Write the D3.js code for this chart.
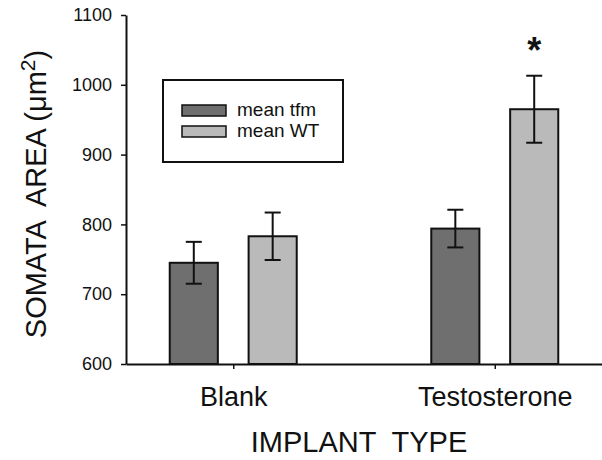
<!DOCTYPE html>
<html>
<head>
<meta charset="utf-8">
<script src="https://cdn.jsdelivr.net/npm/d3@7"></script>
<style>
  body { margin: 0; background: #fff; }
  text { font-family: "Liberation Sans", Arial, Helvetica, sans-serif; fill: #111; }
</style>
</head>
<body>
<div id="vis"></div>
<script>
const implants = ["Blank", "Testosterone"];
const groups = ["mean tfm", "mean WT"];
const tfmMeans = [745, 794];
const tfmErr = [30, 27];
const wtMeans = [783, 965];
const wtErr = [34, 48];
const yTicks = [600, 700, 800, 900, 1000, 1100];
const significant = [false, true];   // WT only

const colors = { "mean tfm": "#6f6f6f", "mean WT": "#bababa" };

const width = 602, height = 460;
const svg = d3.select("#vis").append("svg")
  .attr("width", width).attr("height", height);

const rows = [];
implants.forEach((imp, i) => {
  rows.push({ imp, grp: "mean tfm", v: tfmMeans[i], e: tfmErr[i], star: false });
  rows.push({ imp, grp: "mean WT", v: wtMeans[i], e: wtErr[i], star: significant[i] });
});

const x = d3.scalePoint().domain(implants).range([126, 602]).padding(0.41);
const xSub = d3.scaleBand().domain(groups).range([-63.5, 63.5]).paddingInner(0.39);
const y = d3.scaleLinear().domain([600, 1100]).range([364, 15]);

// axes
const yAxis = svg.append("g").attr("transform", "translate(126,0)")
  .call(d3.axisLeft(y).tickValues(yTicks).tickFormat(d3.format("d"))
    .tickSize(5).tickPadding(9).tickSizeOuter(0));
yAxis.select(".domain").attr("stroke", "#111").attr("stroke-width", 2);
yAxis.selectAll(".tick line").attr("stroke", "#111").attr("stroke-width", 1.5);
yAxis.selectAll(".tick text").style("font-size", "18px").attr("fill", "#111");

const xAxis = svg.append("g").attr("transform", "translate(0,364)")
  .call(d3.axisBottom(x).tickSize(5).tickPadding(18).tickSizeOuter(0));
xAxis.select(".domain").attr("stroke", "#111").attr("stroke-width", 2);
xAxis.selectAll(".tick line").attr("stroke", "#111").attr("stroke-width", 1.5);
xAxis.selectAll(".tick text").style("font-size", "27px").attr("fill", "#111");

// bars
svg.append("g").selectAll("rect").data(rows).join("rect")
  .attr("x", d => x(d.imp) + xSub(d.grp))
  .attr("y", d => y(d.v))
  .attr("width", xSub.bandwidth())
  .attr("height", d => y(600) - y(d.v))
  .attr("fill", d => colors[d.grp])
  .attr("stroke", "#111")
  .attr("stroke-width", 2);

// error bars
const eb = svg.append("g").selectAll("g").data(rows).join("g")
  .attr("transform", d => `translate(${x(d.imp) + xSub(d.grp) + xSub.bandwidth() / 2},0)`);
eb.append("line").attr("y1", d => y(d.v + d.e)).attr("y2", d => y(d.v - d.e))
  .attr("stroke", "#111").attr("stroke-width", 2);
eb.append("line").attr("x1", -8).attr("x2", 8)
  .attr("y1", d => y(d.v + d.e)).attr("y2", d => y(d.v + d.e))
  .attr("stroke", "#111").attr("stroke-width", 2);
eb.append("line").attr("x1", -8).attr("x2", 8)
  .attr("y1", d => y(d.v - d.e)).attr("y2", d => y(d.v - d.e))
  .attr("stroke", "#111").attr("stroke-width", 2);
eb.filter(d => d.star).append("text")
  .attr("y", d => y(d.v + d.e) - 13)
  .attr("text-anchor", "middle")
  .style("font-size", "36px").style("font-weight", "bold")
  .text("*");

// legend
const legend = svg.append("g").attr("transform", "translate(163,80)");
legend.append("rect").attr("width", 180).attr("height", 82)
  .attr("fill", "none").attr("stroke", "#111").attr("stroke-width", 2);
groups.forEach((g, i) => {
  legend.append("rect").attr("x", 19).attr("y", 25 + i * 21)
    .attr("width", 44).attr("height", 11)
    .attr("fill", colors[g]).attr("stroke", "#111").attr("stroke-width", 1.5);
  legend.append("text").attr("x", 74).attr("y", 36 + i * 21)
    .style("font-size", "19px").text(g);
});

// axis titles
svg.append("text").attr("x", 359).attr("y", 452)
  .attr("text-anchor", "middle").style("font-size", "29px")
  .attr("xml:space", "preserve")
  .text("IMPLANT  TYPE");

const yt = svg.append("text")
  .attr("transform", "translate(46,194) rotate(-90)")
  .attr("text-anchor", "middle").style("font-size", "29px")
  .attr("xml:space", "preserve");
yt.append("tspan").text("SOMATA  AREA (\u03bcm");
yt.append("tspan").attr("dy", -11).style("font-size", "21px").text("2");
yt.append("tspan").attr("dy", 11).text(")");
</script>
</body>
</html>
